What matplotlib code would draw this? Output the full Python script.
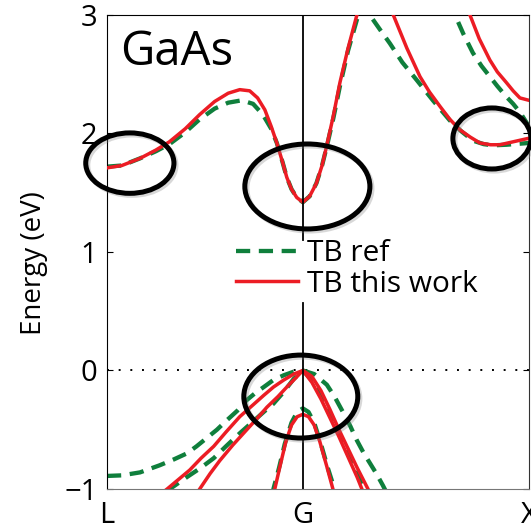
import numpy as np
import matplotlib
matplotlib.use("Agg")
import matplotlib.pyplot as plt
from matplotlib.patches import Ellipse
import matplotlib.patheffects as pe

plt.rcParams['font.family'] = ['Open Sans', 'DejaVu Sans']

# k path: L at -0.866, G at 0, X at 1 (|L-G| = sqrt(3)/2 of |G-X|)
kTicks = [-0.866, 0.0, 1.0]
kLabels = ['L', 'G', 'X']

# --- TB this work (red) ---
redCb1K = [-0.866, -0.80, -0.72, -0.65, -0.59, -0.52, -0.456, -0.39, -0.33, -0.279, -0.235, -0.20,
           -0.168, -0.14, -0.115, -0.09, -0.071, -0.05, -0.027, 0.0, 0.03, 0.06, 0.085, 0.106, 0.135,
           0.164, 0.20, 0.239, 0.28, 0.32, 0.36, 0.40, 0.46, 0.518, 0.56, 0.606, 0.65, 0.695, 0.74,
           0.783, 0.83, 0.872, 0.93, 1.0]
redCb1E = [1.71, 1.73, 1.79, 1.86, 1.93, 2.04, 2.16, 2.27, 2.34, 2.37, 2.36, 2.30,
           2.20, 2.06, 1.92, 1.76, 1.63, 1.53, 1.46, 1.42, 1.47, 1.58, 1.73, 1.90, 2.15,
           2.43, 2.72, 3.0, 3.25, 3.35, 3.22, 3.0, 2.72, 2.48, 2.35, 2.23, 2.12, 2.03, 1.97,
           1.92, 1.905, 1.905, 1.93, 1.96]
redCb2K = [0.72, 0.739, 0.78, 0.827, 0.86, 0.90, 0.93, 0.96, 1.0]
redCb2E = [3.12, 3.0, 2.80, 2.62, 2.52, 2.43, 2.36, 2.30, 2.28]

redHhK = [-0.62, -0.60, -0.55, -0.50, -0.45, -0.394, -0.34, -0.279, -0.22, -0.173, -0.13, -0.084, -0.04,
          0.0, 0.04, 0.08, 0.12, 0.16, 0.20, 0.24, 0.288, 0.30]
redHhE = [-1.03, -1.0, -0.92, -0.84, -0.74, -0.64, -0.52, -0.39, -0.29, -0.21, -0.14, -0.08, -0.03,
          0.0, -0.05, -0.17, -0.33, -0.50, -0.66, -0.82, -1.0, -1.05]
redLhK = [-0.47, -0.456, -0.41, -0.367, -0.31, -0.248, -0.20, -0.159, -0.11, -0.071, -0.035,
          0.0, 0.04, 0.08, 0.12, 0.16, 0.20, 0.24, 0.261, 0.27]
redLhE = [-1.04, -1.0, -0.87, -0.76, -0.63, -0.50, -0.40, -0.31, -0.22, -0.14, -0.07,
          0.0, -0.10, -0.24, -0.40, -0.56, -0.73, -0.90, -1.0, -1.04]
redSoK = [-0.13, -0.124, -0.10, -0.075, -0.05, -0.025, 0.0, 0.025, 0.05, 0.075, 0.106, 0.133, 0.14]
redSoE = [-1.05, -1.0, -0.80, -0.60, -0.46, -0.39, -0.37, -0.39, -0.46, -0.60, -0.81, -1.0, -1.05]

# --- TB ref (green) ---
grnCb1K = [-0.866, -0.80, -0.72, -0.65, -0.59, -0.52, -0.456, -0.39, -0.33, -0.27, -0.22, -0.177,
           -0.14, -0.115, -0.09, -0.071, -0.05, -0.027, 0.0, 0.03, 0.06, 0.085, 0.106, 0.135, 0.164,
           0.20, 0.245, 0.27, 0.296, 0.34, 0.385, 0.44, 0.504, 0.575, 0.65, 0.70, 0.752, 0.80, 0.84,
           0.90, 1.0]
grnCb1E = [1.72, 1.73, 1.79, 1.85, 1.91, 2.01, 2.12, 2.21, 2.26, 2.28, 2.25, 2.16,
           2.04, 1.92, 1.76, 1.63, 1.53, 1.46, 1.42, 1.47, 1.58, 1.73, 1.89, 2.13, 2.40,
           2.70, 3.0, 3.08, 3.0, 2.88, 2.76, 2.60, 2.45, 2.28, 2.11, 2.02, 1.94, 1.91, 1.90,
           1.905, 1.92]
grnCb2K = [0.65, 0.673, 0.71, 0.752, 0.79, 0.827, 0.86, 0.90, 0.93, 0.96, 1.0]
grnCb2E = [3.12, 3.0, 2.84, 2.68, 2.57, 2.48, 2.40, 2.31, 2.25, 2.18, 2.06]

grnHhK = [-0.866, -0.80, -0.72, -0.633, -0.57, -0.513, -0.47, -0.425, -0.38, -0.336, -0.29, -0.248,
          -0.21, -0.173, -0.13, -0.084, -0.04, 0.0, 0.05, 0.106, 0.14, 0.177, 0.21, 0.239, 0.27,
          0.296, 0.325, 0.354, 0.37]
grnHhE = [-0.89, -0.885, -0.86, -0.80, -0.75, -0.70, -0.64, -0.57, -0.50, -0.42, -0.34, -0.25,
          -0.19, -0.14, -0.08, -0.04, -0.01, 0.0, -0.03, -0.12, -0.22, -0.35, -0.47, -0.59, -0.70,
          -0.78, -0.87, -0.97, -1.03]
grnLhK = [-0.60, -0.588, -0.513, -0.45, -0.394, -0.34, -0.279, -0.22, -0.173, -0.13, -0.084, -0.04,
          0.0, 0.04, 0.08, 0.12, 0.16, 0.20, 0.24, 0.27, 0.28]
grnLhE = [-1.02, -1.0, -0.90, -0.82, -0.74, -0.64, -0.53, -0.43, -0.35, -0.28, -0.18, -0.07,
          0.0, -0.08, -0.21, -0.37, -0.53, -0.70, -0.87, -1.0, -1.05]
grnSoK = [-0.135, -0.13, -0.105, -0.08, -0.05, -0.025, 0.0, 0.025, 0.05, 0.08, 0.11, 0.14, 0.145]
grnSoE = [-1.05, -1.0, -0.82, -0.62, -0.44, -0.35, -0.32, -0.35, -0.44, -0.62, -0.82, -1.0, -1.05]

# highlight ellipses: (center k, center E, width, height)
ellipses = [(-0.765, 1.75, 0.39, 0.51),
            (0.02, 1.553, 0.553, 0.717),
            (0.836, 1.958, 0.345, 0.515),
            (-0.009, -0.22, 0.504, 0.70)]

RED = '#ec1c24'
GREEN = '#0f7f3c'

fig = plt.figure(figsize=(5.31, 5.30), dpi=100)
ax = fig.add_axes([0.2015, 0.0774, 0.7947, 0.8943])

greenStyle = dict(color=GREEN, lw=3.1, linestyle=(0, (3.3, 2.0)), zorder=2)
redStyle = dict(color=RED, lw=2.5, zorder=3, solid_joinstyle='round')

gLines = []
for k, e in [(grnCb1K, grnCb1E), (grnCb2K, grnCb2E), (grnHhK, grnHhE), (grnLhK, grnLhE), (grnSoK, grnSoE)]:
	gLines += ax.plot(k, e, **greenStyle)
rLines = []
for k, e in [(redCb1K, redCb1E), (redCb2K, redCb2E), (redHhK, redHhE), (redLhK, redLhE), (redSoK, redSoE)]:
	rLines += ax.plot(k, e, **redStyle)

# zero line and G marker (the G line is broken where the legend sits)
ax.axhline(0, color='black', lw=1.4, linestyle=(0, (1, 5)), zorder=1)
ax.plot([0, 0], [-1, 0.57], color='black', lw=1.3, zorder=4)
ax.plot([0, 0], [1.10, 3], color='black', lw=1.3, zorder=4)

shadow = [pe.SimpleLineShadow(offset=(1.5, -1.5), shadow_color='gray', alpha=0.3), pe.Normal()]
for (cx, cy, w, h) in ellipses:
	el = Ellipse((cx, cy), w, h, fill=False, ec='black', lw=3.6, zorder=6, clip_on=False)
	el.set_path_effects(shadow)
	ax.add_patch(el)

ax.set_xlim(-0.866, 1.0)
ax.set_ylim(-1, 3)
ax.set_xticks(kTicks)
ax.set_xticklabels(kLabels)
ax.set_yticks([-1, 0, 1, 2, 3])
ax.tick_params(axis='y', direction='in', length=4, labelsize=21, pad=7, right=True)
ax.tick_params(axis='x', direction='in', length=0, labelsize=21, pad=9)
ax.spines['bottom'].set_color('#777777')
ax.spines['right'].set_color('#333333')

ax.set_ylabel('Energy (eV)', fontsize=20)
ax.yaxis.set_label_coords(-0.14, 0.477)

ax.text(0.031, 0.894, 'GaAs', transform=ax.transAxes, fontsize=34, va='baseline', ha='left')

ax.legend([gLines[0], rLines[0]], ['TB ref', 'TB this work'], loc='center left',
          bbox_to_anchor=(0.305, 0.464), frameon=False, fontsize=21.5, handlelength=2.1,
          handletextpad=0.3, labelspacing=0.05, borderpad=0, borderaxespad=0)

fig.savefig('out.png', dpi=100)
